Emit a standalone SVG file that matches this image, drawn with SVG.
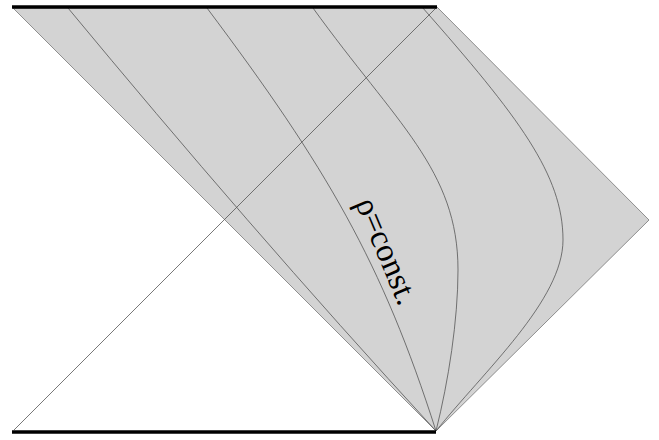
<svg xmlns="http://www.w3.org/2000/svg" width="659" height="440" viewBox="0 0 659 440">
<style>
.thin{fill:none;stroke:#555;stroke-width:0.8}
.thick{stroke:#000;stroke-width:3.5;fill:none}
.lbl{font-family:'Liberation Serif','DejaVu Serif',serif;font-size:33px;fill:#000}
</style>
<rect width="659" height="440" fill="#fff"/>
<g id="region">
<polygon points="13,8 437,7 649,220 436,431" fill="#d3d3d3" stroke="#777" stroke-width="0.8"/>
</g>
<g id="connectors">
<line class="thin" x1="14" y1="430" x2="437" y2="7"/>
<path class="thin" d="M68,8 C184,148 307,291 436,431"/>
<path class="thin" d="M207,8 C327,168 382,262 436,431"/>
<path class="thin" d="M313,8 C396,123 458,170 458,270 C458,320 448.5,381 436,431"/>
<path class="thin" d="M422,7 C519,117 563,175 563,240 C563,300 484,371 436,431"/>
</g>
<g id="boundaries">
<line class="thick" x1="12" y1="7" x2="437" y2="7"/>
<line class="thick" x1="12" y1="432" x2="436" y2="432"/>
</g>
<g id="label">
<text class="lbl" transform="translate(355,203) rotate(67)">ρ=const.</text>
</g>
</svg>
